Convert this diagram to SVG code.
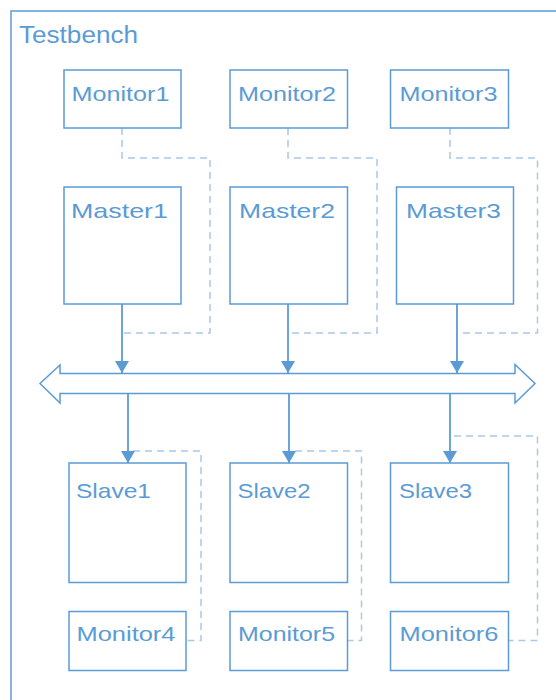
<svg xmlns="http://www.w3.org/2000/svg" width="556" height="700" viewBox="0 0 556 700">
  <defs>
    <marker id="arrow" viewBox="0 0 12 14" refX="12" refY="7" markerWidth="12" markerHeight="14" markerUnits="userSpaceOnUse" orient="auto">
      <path d="M0,0 L12,7 L0,14 Z" fill="#5b9bd5"/>
    </marker>
    <style>
      .box { fill: #ffffff; stroke: #5b9bd5; stroke-width: 1.5; }
      .frame { fill: none; stroke: #5b9bd5; stroke-width: 1.5; }
      .label { font-family: "Liberation Sans", Arial, sans-serif; font-size: 21px; fill: #5b9bd5; }
      .title { font-family: "Liberation Sans", Arial, sans-serif; font-size: 23px; fill: #5b9bd5; }
      .link { fill: none; stroke: #5b9bd5; stroke-width: 1.8; marker-end: url(#arrow); }
      .mon { fill: none; stroke: #a9c9e8; stroke-width: 1.5; stroke-dasharray: 7 5; }
      .bus { fill: #ffffff; stroke: #5b9bd5; stroke-width: 1.5; }
    </style>
  </defs>

  <rect width="556" height="700" fill="#ffffff"/>

  <!-- Testbench enclosure -->
  <g id="testbench">
    <rect class="frame" x="11" y="11" width="560" height="710"/>
    <text class="title" x="19" y="42.5" textLength="119" lengthAdjust="spacingAndGlyphs">Testbench</text>
  </g>

  <!-- Connectors -->
  <g id="connectors">
    <!-- monitor taps (dashed) -->
    <polyline class="mon" points="122,128 122,158 210,158 210,333 124,333"/>
    <polyline class="mon" points="288,128 288,158 377,158 377,333 290,333"/>
    <polyline class="mon" points="450,128 450,158 537.5,158 537.5,333 458,333"/>
    <polyline class="mon" points="133,451 201,451 201,640.5 186,640.5"/>
    <polyline class="mon" points="295,451 361.5,451 361.5,640.5 347.5,640.5"/>
    <polyline class="mon" points="454,436 537.5,436 537.5,640.5 508.5,640.5"/>

    <!-- masters to bus -->
    <line class="link" x1="122" y1="304" x2="122" y2="373"/>
    <line class="link" x1="288" y1="304" x2="288" y2="373"/>
    <line class="link" x1="457" y1="304" x2="457" y2="373"/>

    <!-- bus to slaves -->
    <line class="link" x1="128" y1="393.5" x2="128" y2="463"/>
    <line class="link" x1="289" y1="393.5" x2="289" y2="463"/>
    <line class="link" x1="450" y1="393.5" x2="450" y2="463"/>
  </g>

  <!-- Shared bus -->
  <g id="bus">
    <path class="bus" d="M40,383.5 L60,365 L60,373.5 L515,373.5 L515,364.5 L535,383.5 L515,403 L515,393.5 L60,393.5 L60,403 Z"/>
  </g>

  <!-- Monitors (top row) -->
  <g id="monitor1">
    <rect class="box" x="64" y="70" width="117" height="58"/>
    <text class="label" x="71.5" y="101" textLength="98" lengthAdjust="spacingAndGlyphs">Monitor1</text>
  </g>
  <g id="monitor2">
    <rect class="box" x="230" y="70" width="117.5" height="58"/>
    <text class="label" x="238" y="101" textLength="98" lengthAdjust="spacingAndGlyphs">Monitor2</text>
  </g>
  <g id="monitor3">
    <rect class="box" x="390.5" y="70" width="118" height="58"/>
    <text class="label" x="399.5" y="101" textLength="98" lengthAdjust="spacingAndGlyphs">Monitor3</text>
  </g>

  <!-- Masters -->
  <g id="master1">
    <rect class="box" x="64" y="187" width="117" height="117"/>
    <text class="label" x="71" y="217.5" textLength="97" lengthAdjust="spacingAndGlyphs">Master1</text>
  </g>
  <g id="master2">
    <rect class="box" x="230" y="187" width="117.5" height="117"/>
    <text class="label" x="239" y="217.5" textLength="96" lengthAdjust="spacingAndGlyphs">Master2</text>
  </g>
  <g id="master3">
    <rect class="box" x="396.5" y="187" width="117" height="117"/>
    <text class="label" x="406" y="217.5" textLength="95" lengthAdjust="spacingAndGlyphs">Master3</text>
  </g>

  <!-- Slaves -->
  <g id="slave1">
    <rect class="box" x="69" y="463" width="117" height="119.5"/>
    <text class="label" x="76" y="497.5" textLength="75" lengthAdjust="spacingAndGlyphs">Slave1</text>
  </g>
  <g id="slave2">
    <rect class="box" x="230" y="463" width="117.5" height="119.5"/>
    <text class="label" x="237.5" y="497.5" textLength="73" lengthAdjust="spacingAndGlyphs">Slave2</text>
  </g>
  <g id="slave3">
    <rect class="box" x="390.5" y="463" width="118" height="119.5"/>
    <text class="label" x="399" y="497.5" textLength="73" lengthAdjust="spacingAndGlyphs">Slave3</text>
  </g>

  <!-- Monitors (bottom row) -->
  <g id="monitor4">
    <rect class="box" x="69" y="611.5" width="117" height="59"/>
    <text class="label" x="76.5" y="640.5" textLength="99" lengthAdjust="spacingAndGlyphs">Monitor4</text>
  </g>
  <g id="monitor5">
    <rect class="box" x="230" y="611.5" width="117.5" height="59"/>
    <text class="label" x="238" y="640.5" textLength="97" lengthAdjust="spacingAndGlyphs">Monitor5</text>
  </g>
  <g id="monitor6">
    <rect class="box" x="390.5" y="611.5" width="118" height="59"/>
    <text class="label" x="399.5" y="640.5" textLength="99" lengthAdjust="spacingAndGlyphs">Monitor6</text>
  </g>
</svg>
